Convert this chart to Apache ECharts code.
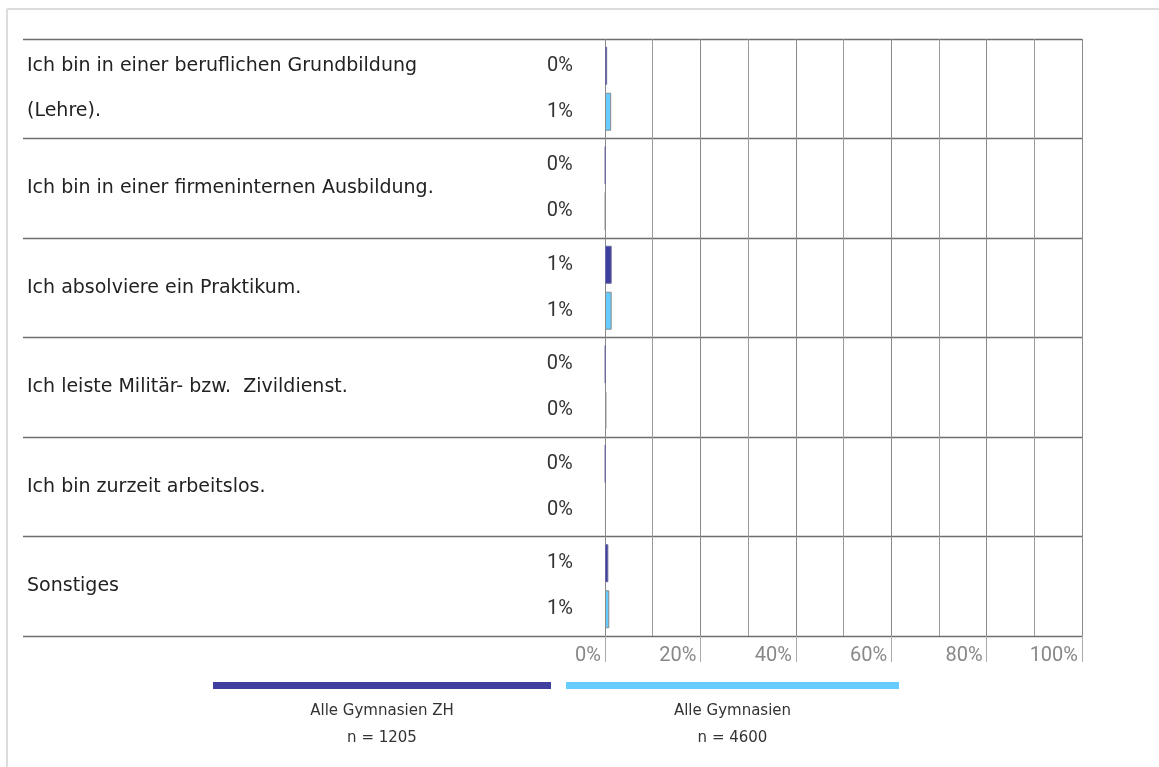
<!DOCTYPE html>
<html>
<head>
<meta charset="utf-8">
<script src="https://cdn.jsdelivr.net/npm/echarts@6/dist/echarts.min.js"></script>
<style>
  html, body { margin: 0; padding: 0; background: #fff; }
  #chart { width: 1159px; height: 767px; }
</style>
</head>
<body>
<div id="chart"></div>
<script>
// answers, top to bottom
const categories = [
  'Ich bin in einer beruflichen Grundbildung\n(Lehre).',
  'Ich bin in einer firmeninternen Ausbildung.',
  'Ich absolviere ein Praktikum.',
  'Ich leiste Militär- bzw.  Zivildienst.',
  'Ich bin zurzeit arbeitslos.',
  'Sonstiges',
]
const seriesNames = ['Alle Gymnasien ZH', 'Alle Gymnasien']
const sampleSizes = ['n = 1205', 'n = 4600']
// percent values
const zhValues = [0.45, 0.1, 1.4, 0.1, 0.1, 0.7]
const allValues = [1.3, 0.1, 1.4, 0.3, 0.2, 0.9]
const xTicks = [0, 20, 40, 60, 80, 100]

const colors = ['#3f3f9f', '#66ccff']
const borders = ['#6a6a9e', '#8c8c8c']
const numFont = 'Roboto, "DejaVu Sans", sans-serif'
const textFont = '"DejaVu Sans", Roboto, sans-serif'

const gridBox = { top: 39, bottom: 131, right: 77 }

const barSeries = (name, data, i) => ({
  name,
  type: 'bar',
  xAxisIndex: 0,
  yAxisIndex: 0,
  data,
  barWidth: 38,
  barGap: '21%',
  itemStyle: { color: colors[i], borderColor: borders[i], borderWidth: 1 },
  label: {
    show: true,
    position: 'left',
    distance: 32,
    color: '#333',
    fontFamily: numFont,
    fontSize: 20,
    formatter: (p) => Math.round(p.value) + '%',
  },
  emphasis: { disabled: true },
  silent: true,
})

const legendGraphic = []
const legendX = [[213, 551], [566, 899]]
seriesNames.forEach((name, i) => {
  const [x0, x1] = legendX[i]
  const cx = (x0 + x1) / 2
  legendGraphic.push(
    { type: 'rect', shape: { x: x0, y: 682, width: x1 - x0, height: 7 }, style: { fill: colors[i] } },
    { type: 'text', x: cx, y: 711, style: { text: name, fill: '#333', font: '15px ' + textFont, align: 'center', verticalAlign: 'middle' } },
    { type: 'text', x: cx, y: 738, style: { text: sampleSizes[i], fill: '#333', font: '15px ' + textFont, align: 'center', verticalAlign: 'middle' } },
  )
})

const chart = echarts.init(document.getElementById('chart'))
chart.setOption({
  animation: false,
  grid: [
    { left: 605, ...gridBox },
    { left: 23, ...gridBox },
  ],
  xAxis: [
    {
      gridIndex: 0,
      type: 'value',
      min: 0,
      max: 100,
      interval: 20,
      axisLine: { show: false },
      axisTick: { show: true, length: 26, lineStyle: { color: '#aaa' } },
      axisLabel: {
        customValues: xTicks,
        formatter: '{value}%',
        align: 'right',
        margin: 10,
        padding: [0, 4, 0, 0],
        color: '#888',
        fontFamily: numFont,
        fontSize: 20,
      },
      splitLine: { show: true, lineStyle: { color: '#8a8a8a', width: 1 } },
      minorTick: { show: false, splitNumber: 2 },
      minorSplitLine: { show: true, lineStyle: { color: '#9a9a9a', width: 1 } },
    },
    { gridIndex: 1, type: 'value', show: false },
  ],
  yAxis: [
    {
      gridIndex: 0,
      type: 'category',
      inverse: true,
      data: categories,
      axisLine: { show: false },
      axisTick: { show: false },
      axisLabel: { show: false },
      splitLine: { show: false },
    },
    {
      gridIndex: 1,
      type: 'category',
      inverse: true,
      // two-line label sits a little higher in the original
      data: categories.map((c) => (c.includes('\n') ? { value: c, textStyle: { padding: [0, 0, 6, 0] } } : c)),
      axisLine: { show: false },
      axisTick: { show: false },
      axisLabel: {
        inside: true,
        align: 'left',
        margin: 4,
        color: '#222',
        fontFamily: textFont,
        fontSize: 19,
        lineHeight: 45,
      },
      splitLine: { show: true, lineStyle: { color: '#6e6e6e', width: 1.3 } },
    },
  ],
  series: [
    barSeries(seriesNames[0], zhValues, 0),
    barSeries(seriesNames[1], allValues, 1),
  ],
  graphic: [
    { type: 'line', shape: { x1: 7, y1: 9, x2: 1159, y2: 9 }, style: { stroke: '#dcdcdc', lineWidth: 2 } },
    { type: 'line', shape: { x1: 7, y1: 9, x2: 7, y2: 767 }, style: { stroke: '#dcdcdc', lineWidth: 2 } },
    ...legendGraphic,
  ],
})
</script>
</body>
</html>
